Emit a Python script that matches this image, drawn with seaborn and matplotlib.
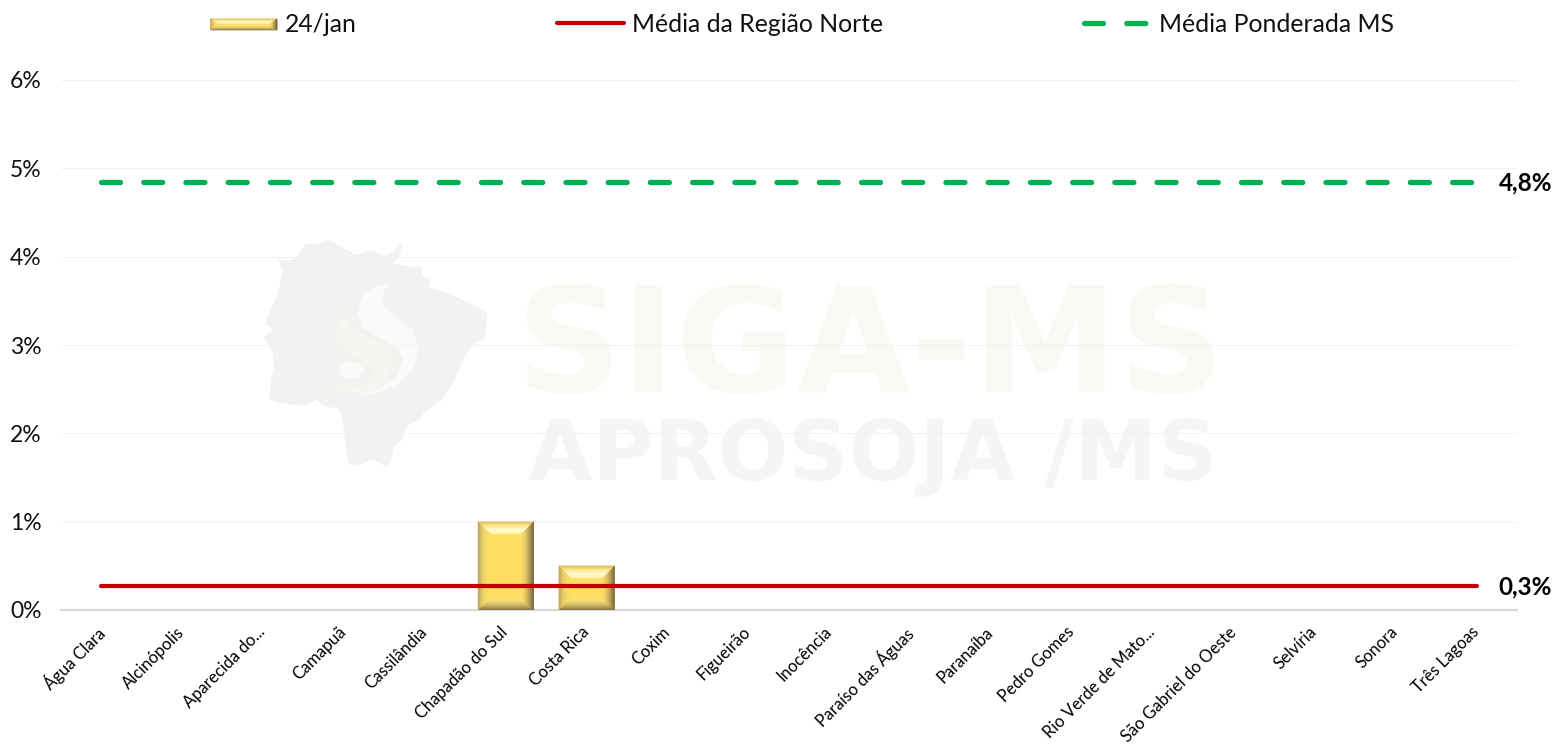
import numpy as np
import pandas as pd
import matplotlib
matplotlib.use("Agg")
import matplotlib.pyplot as plt
import seaborn as sns
from matplotlib.colors import to_rgb
from matplotlib.lines import Line2D
from matplotlib.patches import Polygon, Patch
from matplotlib.legend_handler import HandlerBase
from matplotlib.ticker import FuncFormatter
from matplotlib.transforms import ScaledTranslation

cities = ["Água Clara", "Alcinópolis", "Aparecida do...", "Camapuã", "Cassilândia",
          "Chapadão do Sul", "Costa Rica", "Coxim", "Figueirão", "Inocência",
          "Paraíso das Águas", "Paranaíba", "Pedro Gomes", "Rio Verde de Mato...",
          "São Gabriel do Oeste", "Selvíria", "Sonora", "Três Lagoas"]
jan24 = [0, 0, 0, 0, 0, 1.0, 0.5, 0, 0, 0, 0, 0, 0, 0, 0, 0, 0, 0]
media_norte = [0.27] * 18
media_ms = [4.85] * 18
y_ticks = [0, 1, 2, 3, 4, 5, 6]

# watermark outline, in reference pixels
map_outline = [(140,113),(160,150),(140,230),(105,310),(128,330),(102,350),(128,400),(132,440),
               (122,480),(118,540),(150,548),(215,558),(262,540),(285,560),(325,565),(338,600),
               (350,700),(358,735),(395,733),(430,718),(465,738),(482,730),(492,680),(515,660),
               (528,620),(575,595),(580,580),(635,540),(670,490),(690,440),(710,400),(740,365),
               (765,355),(772,280),(730,255),(660,222),(595,203),(602,178),(578,170),(575,140),
               (530,140),(490,130),(510,105),(518,65),(475,105),(450,105),(430,90),(380,105),
               (340,85),(295,60),(270,70),(228,72),(200,110),(165,125)]
swirl_cream = [(345,285),(318,320),(318,365),(345,395),(400,425),(435,445),(420,480),(380,500),
               (290,490),(340,515),(420,520),(470,480),(495,420),(470,375),(400,345),(365,320)]
swirl_s = [(478,190),(430,200),(395,235),(383,280),(400,325),(450,355),(500,385),(520,420),
           (500,470),(440,510),(370,525),(440,522),(510,490),(555,435),(567,380),(545,325),
           (490,285),(458,250),(460,215)]
swirl_dot = [(330,440),(350,420),(385,430),(405,450),(385,472),(350,478),(332,465)]

sns.set_theme(style="white")
plt.rcParams["font.family"] = ["Lato", "DejaVu Sans"]

W, H = 1557, 747
fig = plt.figure(figsize=(W / 100, H / 100), dpi=100)
ax = fig.add_axes([61 / W, 1 - 610 / H, (1517 - 61) / W, (610 - 80) / H])
ax.patch.set_alpha(0)


def fig_xy(points, ox=230, oy=220, scale=1 / 3):
    return [((ox + x * scale) / W, 1 - (oy + y * scale) / H) for x, y in points]


for pts, col in [(map_outline, "#f1f3f1"), (swirl_cream, "#f6f6f0"),
                 (swirl_s, "#fafafa"), (swirl_dot, "#fafafa")]:
    fig.add_artist(Polygon(fig_xy(pts), closed=True, fc=col, ec="none",
                           transform=fig.transFigure, zorder=-5))
fig.text(870 / W, 1 - 392 / H, "SIGA-MS", fontsize=106, fontweight="bold", color="#f9f9f4",
         family="DejaVu Sans", ha="center", va="baseline", zorder=-5)
fig.text(873 / W, 1 - 480 / H, "APROSOJA /MS", fontsize=60, fontweight="bold", color="#f5f6f4",
         family="DejaVu Sans", ha="center", va="baseline", zorder=-5)

df = pd.DataFrame({"cidade": cities, "valor": jan24})
sns.barplot(data=df, x="cidade", y="valor", width=0.69, color="#ffde62", saturation=1,
            ax=ax, zorder=2, linewidth=0)

# shades from the outer edge of the bevel inwards
SHADES = {"top": ["#d9bd62", "#fff08f", "#fffde4", "#fff6b0"],
          "bottom": ["#8a7a4c", "#c9b262", "#f3d76e", "#ffe888"],
          "left": ["#bfa55a", "#e8cd6c", "#f8dc66", "#ffde62"],
          "right": ["#6b5f3a", "#a8945a", "#e3c766", "#ffde62"]}


def shade(side, t):
    stops = np.array([to_rgb(c) for c in SHADES[side]])
    pos = np.linspace(0, 1, len(stops))
    return tuple(np.interp(t, pos, stops[:, i]) for i in range(3))


def bevel(x0, y0, x1, y1, d, dy, steps=12, **kw):
    # nested trapezoid rings around the face of a bar
    out = []
    for i in range(steps):
        a, b = i / steps, (i + 1) / steps
        xa0, xa1, ya0, ya1 = x0 + a * d, x1 - a * d, y0 + a * dy, y1 - a * dy
        xb0, xb1, yb0, yb1 = x0 + b * d, x1 - b * d, y0 + b * dy, y1 - b * dy
        sides = {"top": [(xa0, ya1), (xa1, ya1), (xb1, yb1), (xb0, yb1)],
                 "bottom": [(xa0, ya0), (xa1, ya0), (xb1, yb0), (xb0, yb0)],
                 "left": [(xa0, ya0), (xa0, ya1), (xb0, yb1), (xb0, yb0)],
                 "right": [(xa1, ya0), (xa1, ya1), (xb1, yb1), (xb1, yb0)]}
        for k, p in sides.items():
            col = shade(k, a)
            out.append(Polygon(p, closed=True, fc=col, ec=col, lw=0.2, **kw))
    return out


for bar in ax.patches:
    if bar.get_height() <= 0:
        continue
    x0, x1 = bar.get_x(), bar.get_x() + bar.get_width()
    y1 = bar.get_height()
    for p in bevel(x0, 0, x1, y1, 0.15, 0.136, zorder=3):
        ax.add_patch(p)

sns.lineplot(x=cities, y=media_norte, color="#c00000", linewidth=3.0, ax=ax, zorder=4,
             errorbar=None)
sns.lineplot(x=cities, y=media_ms, color="#00b050", linewidth=3.8, ax=ax, zorder=4,
             errorbar=None)
ax.lines[-1].set_linestyle((0, (3.6, 4.4)))
ax.lines[-1].set_dash_capstyle("round")

ax.set_xlim(-0.5, 17.5)
ax.set_ylim(0, 6)
ax.set_yticks(y_ticks)
ax.yaxis.set_major_formatter(FuncFormatter(lambda v, _: f"{v:.0f}%"))
ax.grid(axis="y", color="#f2f2f2", linewidth=0.8, zorder=0)
ax.grid(axis="x", visible=False)
ax.set_axisbelow(True)
ax.set_xlabel("")
ax.set_ylabel("")
sns.despine(ax=ax, left=True, top=True, right=True)
ax.spines["bottom"].set_color("#d9d9d9")
ax.spines["bottom"].set_linewidth(1.6)
ax.tick_params(axis="y", length=0, labelsize=16.5, labelcolor="#111111", pad=14)
ax.tick_params(axis="x", length=0, labelsize=12, labelcolor="#000000", pad=10)
plt.setp(ax.get_xticklabels(), rotation=45, ha="right", rotation_mode="anchor")
# labels sit a little left of the tick position
shift = ScaledTranslation(-0.06, 0, fig.dpi_scale_trans)
for lab in ax.get_xticklabels():
    lab.set_transform(lab.get_transform() + shift)

ax.annotate("4,8%", (17, media_ms[0]), xytext=(1552 / W, 1 - 183 / H), textcoords="figure fraction",
            fontsize=17.5, fontweight="bold", color="black", ha="right", va="center")
ax.annotate("0,3%", (17, media_norte[0]), xytext=(1552 / W, 1 - 587 / H), textcoords="figure fraction",
            fontsize=17.5, fontweight="bold", color="black", ha="right", va="center")


class BevelHandler(HandlerBase):
    def create_artists(self, legend, orig, xd, yd, width, height, fontsize, trans):
        x0, y0 = -xd, -yd + height * 0.08
        x1, y1 = x0 + width, y0 + height * 0.66
        face = Polygon([(x0, y0), (x1, y0), (x1, y1), (x0, y1)], closed=True, fc="#ffde62",
                       ec="none", transform=trans)
        return [face] + bevel(x0, y0, x1, y1, 5, 3.4, steps=5, transform=trans)


handles = [Patch(label="24/jan"),
           Line2D([], [], color="#c00000", lw=3.0, label="Média da Região Norte"),
           Line2D([], [], color="#00b050", lw=3.8, dashes=(3.6, 4.4), dash_capstyle="round",
                  label="Média Ponderada MS")]
fig.legend(handles=handles, handler_map={Patch: BevelHandler()}, loc="center",
           bbox_to_anchor=(802 / W, 1 - 24 / H), ncols=3, frameon=False, fontsize=17.8,
           labelcolor="#111111", handlelength=2.7, handletextpad=0.33, columnspacing=8.1,
           borderpad=0, borderaxespad=0)

fig.savefig("out.png", dpi=100, facecolor="white")
